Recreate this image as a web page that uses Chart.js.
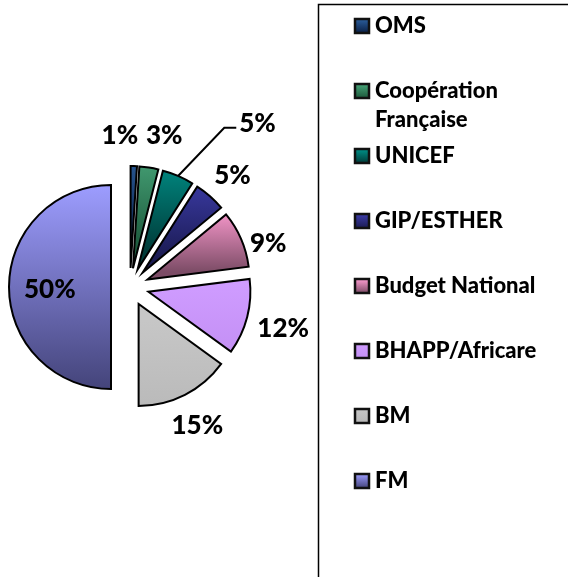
<!DOCTYPE html>
<html lang="fr">
<head>
<meta charset="UTF-8" />
<script src="https://cdn.jsdelivr.net/npm/chart.js@4.4.0/dist/chart.umd.min.js"></script>
<title>Sources de financement</title>
<style>
  html, body { margin: 0; padding: 0; background: #fff; }
</style>
</head>
<body>
<canvas id="chart" width="568" height="577"></canvas>
<script>
  // data (percent of total)
  const sources = ["OMS", "Coopération Française", "UNICEF", "GIP/ESTHER", "Budget National", "BHAPP/Africare", "BM", "FM"];
  const shares = [1, 3, 5, 5, 9, 12, 15, 50];
  const pctLabels = ["1%", "3%", "5%", "5%", "9%", "12%", "15%", "50%"];

  // vertical gradient colours (top / bottom)
  const colorTop = ["#2c5f9e", "#48a67a", "#00928a", "#3d3dab", "#ff9dd2", "#cf9cff", "#c6c6c6", "#9d9dff"];
  const colorBottom = ["#0a1f45", "#1c583b", "#003a38", "#1b1b52", "#7c4c66", "#c38ff4", "#b8b8b8", "#44447a"];

  const explode = 19;
  const font = "Lato, 'Open Sans', sans-serif";
  // small hand nudges for the value labels, like Excel's layout
  const labelShift = [[-15, 4], [10, 2], [66, -21], [0, 5], [-4, 18], [3, 3], [-3, 1], [0, 0]];

  function arcGradient(ctx, arc, dy) {
    const ys = [arc.y];
    const a0 = arc.startAngle, a1 = arc.endAngle;
    ys.push(arc.y + Math.sin(a0) * arc.outerRadius, arc.y + Math.sin(a1) * arc.outerRadius);
    [-Math.PI / 2, Math.PI / 2, 3 * Math.PI / 2].forEach(a => {
      if (a > a0 && a < a1) ys.push(arc.y + Math.sin(a) * arc.outerRadius);
    });
    const top = Math.min(...ys) + dy, bot = Math.max(...ys) + dy;
    return ctx.createLinearGradient(0, top, 0, bot);
  }

  const explodePlugin = {
    id: "explode",
    beforeDatasetDraw(chart, args) {
      const ctx = chart.ctx;
      args.meta.data.forEach((arc, i) => {
        const mid = (arc.startAngle + arc.endAngle) / 2;
        const dx = Math.cos(mid) * explode, dy = Math.sin(mid) * explode;
        const g = arcGradient(ctx, arc, dy);
        g.addColorStop(0, colorTop[i]);
        g.addColorStop(1, colorBottom[i]);
        const saved = arc.options;
        arc.options = Object.assign({}, saved, { backgroundColor: g });
        ctx.save();
        ctx.translate(dx, dy);
        arc.draw(ctx);
        ctx.restore();
        arc.options = saved;
      });
      return false;
    }
  };

  const labelPlugin = {
    id: "pctLabels",
    afterDatasetsDraw(chart) {
      const ctx = chart.ctx;
      const arcs = chart.getDatasetMeta(0).data;
      ctx.save();
      ctx.font = "900 26px " + font;
      ctx.fillStyle = "#000";
      ctx.textAlign = "center";
      ctx.textBaseline = "middle";
      arcs.forEach((arc, i) => {
        const mid = (arc.startAngle + arc.endAngle) / 2;
        const c = Math.cos(mid), s = Math.sin(mid);
        let x, y;
        if (shares[i] >= 50) {
          x = arc.x + c * (explode + arc.outerRadius * 0.6);
          y = arc.y + s * (explode + arc.outerRadius * 0.6) + 3;
        } else {
          const d = arc.outerRadius + explode + 34;
          x = arc.x + c * d + labelShift[i][0];
          y = arc.y + s * d + labelShift[i][1];
        }
        ctx.fillText(pctLabels[i], x, y);
        // leader line for the label pushed away from its slice
        if (Math.abs(labelShift[i][0]) > 40) {
          const w = ctx.measureText(pctLabels[i]).width;
          const left = x - w / 2;
          const r = arc.outerRadius + explode;
          ctx.beginPath();
          ctx.lineWidth = 2;
          ctx.strokeStyle = "#000";
          ctx.moveTo(arc.x + c * r, arc.y + s * r);
          ctx.lineTo(left - 15, y + 4);
          ctx.lineTo(left - 3, y + 4);
          ctx.stroke();
        }
      });
      ctx.restore();
    }
  };

  const legendPlugin = {
    id: "boxLegend",
    afterDraw(chart) {
      const ctx = chart.ctx;
      ctx.save();
      ctx.strokeStyle = "#000";
      ctx.lineWidth = 1.5;
      ctx.strokeRect(318.5, 4.5, 400, 700);
      ctx.font = "900 22px " + font;
      ctx.textBaseline = "middle";
      ctx.textAlign = "left";
      const y0 = 26, step = 65, maxW = 180;
      sources.forEach((name, i) => {
        const y = y0 + i * step;
        const g = ctx.createLinearGradient(0, y - 7, 0, y + 7);
        g.addColorStop(0, colorTop[i]);
        g.addColorStop(1, colorBottom[i]);
        ctx.fillStyle = g;
        ctx.fillRect(355, y - 7, 14, 14);
        ctx.lineWidth = 2.5;
        ctx.strokeStyle = "#111";
        ctx.strokeRect(355, y - 7, 14, 14);
        // wrap long names onto a second line
        const words = name.split(" ");
        const lines = [];
        let cur = "";
        words.forEach(w => {
          const t = cur ? cur + " " + w : w;
          if (cur && ctx.measureText(t).width > maxW) { lines.push(cur); cur = w; }
          else cur = t;
        });
        lines.push(cur);
        ctx.fillStyle = "#000";
        lines.forEach((ln, k) => ctx.fillText(ln, 375, y + k * 29));
      });
      ctx.restore();
    }
  };

  new Chart(document.getElementById("chart"), {
    type: "pie",
    data: {
      labels: sources,
      datasets: [{
        data: shares,
        backgroundColor: colorTop,
        borderColor: "#000",
        borderWidth: 2,
        borderJoinStyle: "miter"
      }]
    },
    options: {
      responsive: false,
      animation: false,
      radius: 102,
      layout: { padding: { left: 0, right: 308, top: 0, bottom: 3 } },
      plugins: {
        legend: { display: false },
        tooltip: { enabled: false }
      }
    },
    plugins: [explodePlugin, labelPlugin, legendPlugin]
  });
</script>
</body>
</html>
